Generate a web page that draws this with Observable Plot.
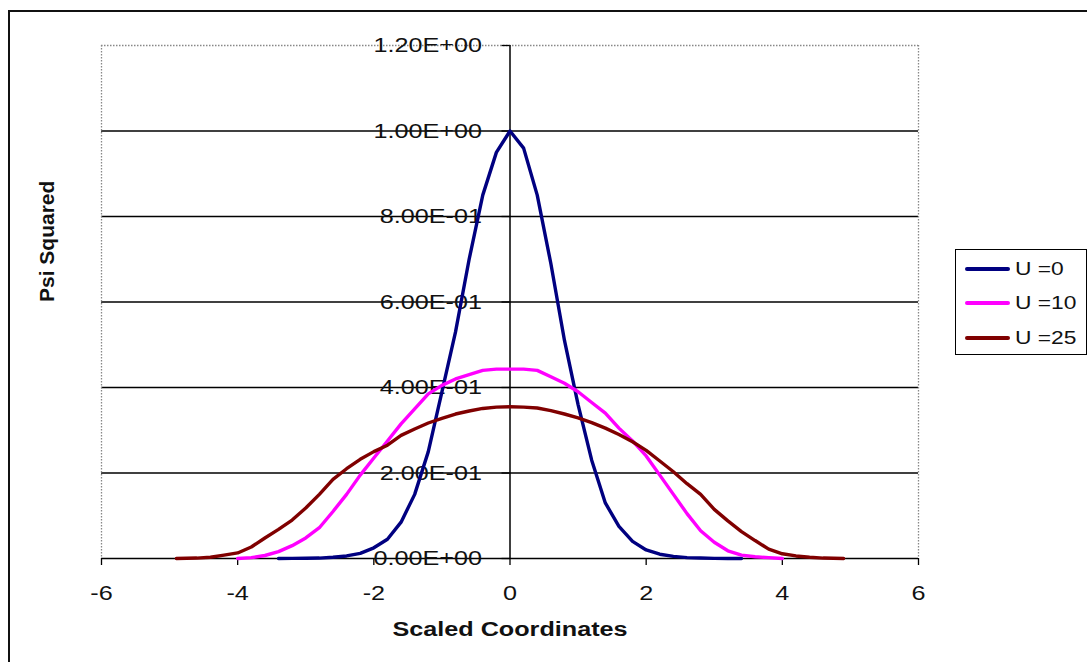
<!DOCTYPE html>
<html><head><meta charset="utf-8">
<script src="https://cdn.jsdelivr.net/npm/d3@7"></script>
<script src="https://cdn.jsdelivr.net/npm/@observablehq/plot@0.6"></script>
<style>
body{margin:0;background:#fff;overflow:hidden}
#wrap{position:relative;width:1087px;height:662px;overflow:hidden;font-family:Arial,"Liberation Sans",sans-serif}
#chart{position:absolute;left:0;top:0}
#border{position:absolute;left:8px;top:10px;width:1100px;height:700px;border:2px solid #111;box-sizing:border-box}
#legend{position:absolute;left:955px;top:249px;width:132px;height:106px;border:1.5px solid #000;box-sizing:border-box;background:#fff}
.item{position:absolute;left:9px;height:20px;display:flex;align-items:center}
.sw{width:45px;height:4px;border-radius:2px}
.lab{margin-left:5px;font-size:19px;transform:scaleX(1.2);transform-origin:left center;color:#111;white-space:pre}
</style></head><body>
<div id="wrap"><div id="chart"></div><div id="border"></div><div id="legend"></div></div>
<script>
const xTicks = [-6, -4, -2, 0, 2, 4, 6];
const yTicks = [0, 0.2, 0.4, 0.6, 0.8, 1.0, 1.2];
const yTickLabels = ["0.00E+00","2.00E-01","4.00E-01","6.00E-01","8.00E-01","1.00E+00","1.20E+00"];
const seriesNames = ["U =0", "U =10", "U =25"];
const seriesColors = ["#000080", "#FF00FF", "#800000"];
const xLabel = "Scaled Coordinates";
const yLabel = "Psi Squared";

const x_u0 = [-3.4,-3.2,-3.0,-2.8,-2.6,-2.4,-2.2,-2.0,-1.8,-1.6,-1.4,-1.2,-1.0,-0.8,-0.6,-0.4,-0.2,0,0.2,0.4,0.6,0.8,1.0,1.2,1.4,1.6,1.8,2.0,2.2,2.4,2.6,2.8,3.0,3.2,3.4];
const psi_u0 = [0,0.0002,0.0005,0.001,0.003,0.006,0.012,0.025,0.045,0.085,0.15,0.25,0.39,0.53,0.70,0.85,0.95,1.0,0.96,0.85,0.69,0.51,0.36,0.23,0.13,0.075,0.04,0.02,0.01,0.005,0.002,0.001,0.0004,0.0001,0];

const x_u10 = [-4.0,-3.8,-3.6,-3.4,-3.2,-3.0,-2.8,-2.6,-2.4,-2.2,-2.0,-1.8,-1.6,-1.4,-1.2,-1.0,-0.8,-0.6,-0.4,-0.2,0,0.2,0.4,0.6,0.8,1.0,1.2,1.4,1.6,1.8,2.0,2.2,2.4,2.6,2.8,3.0,3.2,3.4,3.6,3.8,4.0];
const psi_u10 = [0,0.002,0.007,0.016,0.03,0.048,0.072,0.11,0.15,0.195,0.235,0.275,0.315,0.35,0.385,0.405,0.42,0.43,0.44,0.443,0.443,0.443,0.44,0.425,0.41,0.39,0.365,0.34,0.305,0.275,0.24,0.195,0.15,0.105,0.065,0.038,0.018,0.008,0.004,0.002,0];

const x_u25 = [-4.9,-4.6,-4.4,-4.2,-4.0,-3.8,-3.6,-3.4,-3.2,-3.0,-2.8,-2.6,-2.4,-2.2,-2.0,-1.8,-1.6,-1.4,-1.2,-1.0,-0.8,-0.6,-0.4,-0.2,0,0.2,0.4,0.6,0.8,1.0,1.2,1.4,1.6,1.8,2.0,2.2,2.4,2.6,2.8,3.0,3.2,3.4,3.6,3.8,4.0,4.2,4.4,4.6,4.9];
const psi_u25 = [0,0.001,0.003,0.008,0.013,0.027,0.048,0.068,0.09,0.118,0.15,0.185,0.21,0.232,0.25,0.265,0.288,0.303,0.317,0.328,0.338,0.345,0.351,0.354,0.355,0.354,0.352,0.346,0.338,0.329,0.318,0.305,0.29,0.273,0.253,0.228,0.203,0.175,0.15,0.115,0.088,0.063,0.042,0.022,0.011,0.006,0.003,0.001,0];

const seriesX = [x_u0, x_u10, x_u25];
const seriesPsi = [psi_u0, psi_u10, psi_u25];
const rows = [];
seriesNames.forEach((name, s) => seriesX[s].forEach((xv, i) => rows.push({series: name, x: xv, psi: seriesPsi[s][i]})));

const FONT = 'Arial, "Liberation Sans", sans-serif';
const plot = Plot.plot({
  width: 1087, height: 662,
  marginLeft: 101, marginRight: 169, marginTop: 45, marginBottom: 104,
  x: {domain: [-6, 6], axis: null},
  y: {domain: [0, 1.2], axis: null},
  color: {domain: seriesNames, range: seriesColors},
  style: {fontFamily: FONT, background: "transparent", overflow: "visible"},
  marks: [
    Plot.ruleY(yTicks.slice(1, -1), {stroke: "#000", strokeWidth: 1.3}),
    Plot.ruleY([1.2], {stroke: "#888", strokeDasharray: "1.5,1.5", strokeWidth: 1.3}),
    Plot.ruleX([-6, 6], {stroke: "#888", strokeDasharray: "1.5,1.5", strokeWidth: 1.3}),
    Plot.ruleY(yTicks, {x1: 0, x2: 0, insetLeft: -8, stroke: "#000", strokeWidth: 1.3}),
    Plot.ruleX(xTicks, {y1: 0, y2: 0, insetBottom: -7, stroke: "#000", strokeWidth: 1.3}),
    Plot.ruleX([0], {stroke: "#000", strokeWidth: 1.5}),
    Plot.ruleY([0], {stroke: "#000", strokeWidth: 1.5}),
    Plot.text(yTicks, {x: 0, y: d => d, text: (d, i) => yTickLabels[i], textAnchor: "end", dx: -28, fontSize: 21, fill: "#111"}),
    Plot.text(xTicks, {x: d => d, y: 0, text: d => String(d), dy: 35, fontSize: 21, fill: "#111"}),
    Plot.text([xLabel], {text: d => d, frameAnchor: "bottom", dy: 77, fontWeight: "bold", fontSize: 21, fill: "#111"}),
    Plot.text([yLabel], {text: d => d, frameAnchor: "left", dx: -54, rotate: -90, fontWeight: "bold", fontSize: 21, fill: "#111"}),
    Plot.line(rows, {x: "x", y: "psi", z: "series", stroke: "series", strokeWidth: 3.4, strokeLinejoin: "round"})
  ]
});
document.getElementById("chart").appendChild(plot);

// widen horizontal text like the reference rendering (keep em-based offsets intact)
const isNum = v => v != null && v.trim() !== "" && !isNaN(+v);
plot.querySelectorAll("text").forEach(t => {
  const tr = t.getAttribute("transform") || "";
  if (tr.includes("rotate")) return;
  let pre = tr;
  const xa = t.getAttribute("x"), ya = t.getAttribute("y");
  if (isNum(xa) || isNum(ya)) {
    const x = isNum(xa) ? +xa : 0, y = isNum(ya) ? +ya : 0;
    if (isNum(xa)) t.removeAttribute("x");
    if (isNum(ya)) t.removeAttribute("y");
    pre = `${tr} translate(${x},${y})`;
  }
  t.setAttribute("transform", `${pre} scale(1.2,1)`);
});

const legend = document.getElementById("legend");
const tops = [8.5, 43, 78];
seriesNames.forEach((name, i) => {
  const it = document.createElement("div");
  it.className = "item";
  it.style.top = tops[i] + "px";
  const sw = document.createElement("div");
  sw.className = "sw"; sw.style.background = seriesColors[i];
  const lab = document.createElement("span");
  lab.className = "lab"; lab.textContent = name;
  it.appendChild(sw); it.appendChild(lab);
  legend.appendChild(it);
});
</script>
</body></html>
